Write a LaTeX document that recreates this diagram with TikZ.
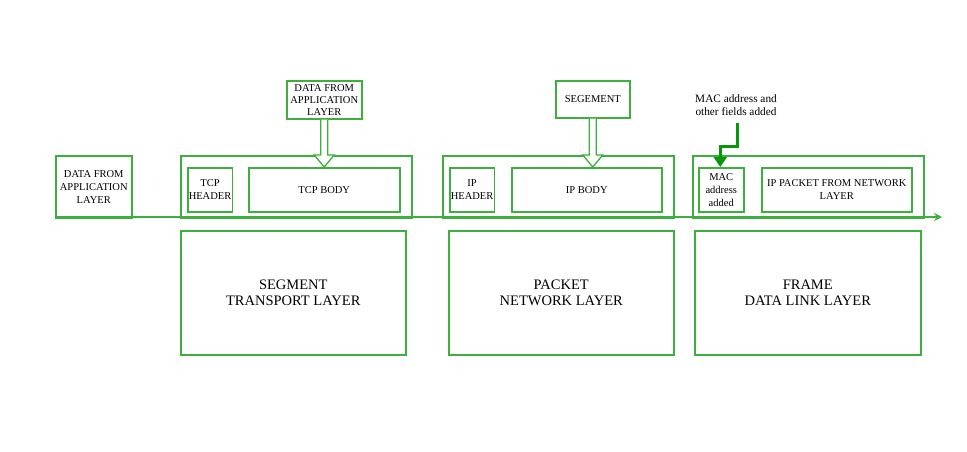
\documentclass[tikz,border=0pt]{standalone}
\usepackage{fontspec}
\setmainfont{Liberation Serif}
\usetikzlibrary{calc,arrows.meta}
\definecolor{gbox}{RGB}{60,175,60}
\definecolor{garrow}{RGB}{10,150,10}
\tikzset{
  box/.style={draw=gbox, line width=1.5pt, fill=white, inner sep=1pt, align=center, anchor=north west, font=\fontsize{10.5}{13}\selectfont},
  bigbox/.style={draw=gbox, line width=1.5pt, align=center, anchor=north west, font=\fontsize{14.5}{16.5}\selectfont},
  hollow/.style={draw=gbox, line width=1.3pt, fill=white, line join=miter},
}
\begin{document}
\begin{tikzpicture}[x=1pt,y=-1pt]
\useasboundingbox (0,0) rectangle (967,451);
% left box
\node[box, minimum width=76pt, minimum height=62pt] (app) at (55,155) {DATA FROM\\APPLICATION\\LAYER};
% segment group
\node[box, minimum width=231pt, minimum height=62pt] (seg) at (180,155) {};
\node[box, minimum width=44pt, minimum height=44pt] (tcph) at (187,167) {TCP\\HEADER};
\node[box, minimum width=151pt, minimum height=44pt] (tcpb) at (248,167) {TCP BODY};
\node[box, minimum width=75pt, minimum height=38pt, font=\fontsize{10.5}{12}\selectfont] (appt) at (286,80) {DATA FROM\\APPLICATION\\LAYER};
\node[bigbox, minimum width=225pt, minimum height=124pt] (segl) at (180,230) {SEGMENT\\TRANSPORT LAYER};
% packet group
\node[box, minimum width=231pt, minimum height=62pt] (pkt) at (442,155) {};
\node[box, minimum width=43pt, minimum height=44pt] (iph) at (449,167) {IP\\HEADER};
\node[box, minimum width=150pt, minimum height=44pt] (ipb) at (511,167) {IP BODY};
\node[box, minimum width=74pt, minimum height=37pt] (segt) at (555,80) {SEGEMENT};
\node[bigbox, minimum width=225pt, minimum height=124pt] (pktl) at (448,230) {PACKET\\NETWORK LAYER};
% frame group
\node[box, minimum width=231pt, minimum height=62pt] (frm) at (692,155) {};
\node[box, minimum width=45pt, minimum height=44pt] (mac) at (698,167) {MAC\\address\\added};
\node[box, minimum width=150pt, minimum height=44pt] (ipp) at (761,167) {IP PACKET FROM NETWORK\\LAYER};
\node[bigbox, minimum width=226pt, minimum height=124pt] (frml) at (694,230) {FRAME\\DATA LINK LAYER};
\node[align=center, inner sep=0pt, font=\fontsize{11.3}{12.5}\selectfont] (macl) at (736,105) {MAC address and\\other fields added};
% main line
\coordinate (ls) at (55,217);
\coordinate (le) at (942,217);
\draw[gbox, line width=1.6pt, -{Stealth[length=8pt,width=8pt]}] (ls) -- (le);
% hollow arrows
\coordinate (tip1) at (appt.south |- tcpb.north);
\draw[hollow] ($(appt.south)+(-3.5,0)$) -- ($(tip1)+(-3.5,-12)$) -- ($(tip1)+(-10,-12)$) -- (tip1) -- ($(tip1)+(10,-12)$) -- ($(tip1)+(3.5,-12)$) -- ($(appt.south)+(3.5,0)$);
\coordinate (tip2) at (segt.south |- ipb.north);
\draw[hollow] ($(segt.south)+(-3.5,0)$) -- ($(tip2)+(-3.5,-12)$) -- ($(tip2)+(-10,-12)$) -- (tip2) -- ($(tip2)+(10,-12)$) -- ($(tip2)+(3.5,-12)$) -- ($(segt.south)+(3.5,0)$);
% MAC arrow
\coordinate (m1) at (737,123);
\coordinate (mtip) at ([xshift=-1pt]mac.north);
\draw[garrow, line width=3pt, -{Triangle[length=10pt,width=13pt]}] (m1) -- (737,146) -| (mtip);
\end{tikzpicture}
\end{document}
